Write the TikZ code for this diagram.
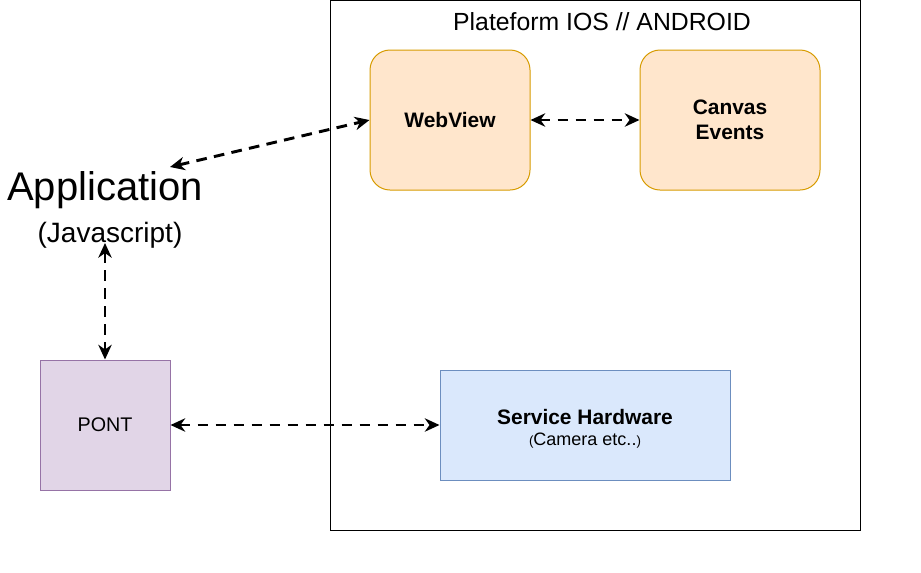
\documentclass[tikz,border=0pt]{standalone}
\usepackage{fontspec}
\setmainfont{Liberation Sans}
\usetikzlibrary{arrows.meta}

\definecolor{orangefill}{HTML}{FFE6CC}
\definecolor{orangeline}{HTML}{D79B00}
\definecolor{purplefill}{HTML}{E1D5E7}
\definecolor{purpleline}{HTML}{9673A6}
\definecolor{bluefill}{HTML}{DAE8FC}
\definecolor{blueline}{HTML}{6C8EBF}

\begin{document}
\begin{tikzpicture}[x=0.75pt,y=-0.75pt,
  bloc/.style={draw, line width=0.75pt, align=center, inner sep=0pt},
  orangebloc/.style={bloc, fill=orangefill, draw=orangeline, rounded corners=15pt,
    font=\fontsize{15.7}{19}\selectfont\bfseries},
  link/.style={line width=2.2pt, dash pattern=on 8pt off 5.5pt,
    {Stealth[length=11pt,width=10pt,inset=3.5pt]}-{Stealth[length=11pt,width=10pt,inset=3.5pt]}}]

\useasboundingbox (0,0) rectangle (921,572);

% -------------------------------------------------
% Plateforme
% -------------------------------------------------
\node[bloc, draw=black, minimum width=397.5pt, minimum height=397.5pt] (plateform) at (595,265.5) {};
\node[font=\fontsize{18.6}{22}\selectfont] (titre) at (602,22) {Plateform IOS // ANDROID};

% -------------------------------------------------
% Blocs
% -------------------------------------------------
\node[orangebloc, minimum width=120pt, minimum height=105pt] (webview) at (450,120) {WebView};
\node[orangebloc, minimum width=135pt, minimum height=105pt] (canvas) at (730,120) {Canvas\\Events};
\node[bloc, fill=purplefill, draw=purpleline, minimum width=97.5pt, minimum height=97.5pt,
  font=\fontsize{14.8}{17}\selectfont] (pont) at (105,425) {PONT};
\node[bloc, fill=bluefill, draw=blueline, minimum width=217.5pt, minimum height=82.5pt] (service) at (585,425)
  {\rule{0pt}{17pt}{\fontsize{15.7}{18}\selectfont\bfseries Service Hardware}\\[3.5pt]
   {\fontsize{10}{12}\selectfont(}{\fontsize{13.5}{15}\selectfont Camera etc..}{\fontsize{10}{12}\selectfont)}};

% -------------------------------------------------
% Application
% -------------------------------------------------
\node[font=\fontsize{30}{34}\selectfont] (appli) at (105,190) {Application};
\node[font=\fontsize{21}{24}\selectfont] (javascript) at (110,235) {(Javascript)};
\coordinate (appin) at (170,167);
\coordinate (jsin) at (105,243);

% -------------------------------------------------
% Liens
% -------------------------------------------------
\draw[link] (appin) -- (webview.west);
\draw[link] (webview.east) -- (canvas.west);
\draw[link] (jsin) -- (pont.north);
\draw[link] (pont.east) -- (service.west);

\end{tikzpicture}
\end{document}
